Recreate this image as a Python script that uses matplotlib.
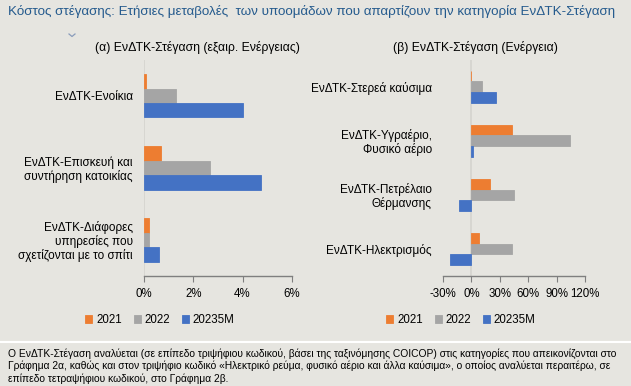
import numpy as np
import matplotlib.pyplot as plt

# δεδομένα (ετήσιες μεταβολές, %)
SERIES = ["2021", "2022", "20235M"]
COLORS = ["#ed7d31", "#a5a5a5", "#4472c4"]

cats_a = ["ΕνΔΤΚ-Ενοίκια", "ΕνΔΤΚ-Επισκευή και\nσυντήρηση κατοικίας",
          "ΕνΔΤΚ-Διάφορες\nυπηρεσίες που\nσχετίζονται με το σπίτι"]
a_2021 = [0.1, 0.7, 0.2]
a_2022 = [1.3, 2.7, 0.2]
a_2023 = [4.0, 4.75, 0.6]

cats_b = ["ΕνΔΤΚ-Στερεά καύσιμα", "ΕνΔΤΚ-Υγραέριο,\nΦυσικό αέριο",
          "ΕνΔΤΚ-Πετρέλαιο\nΘέρμανσης", "ΕνΔΤΚ-Ηλεκτρισμός"]
b_2021 = [-0.5, 43, 20, 8]
b_2022 = [11, 104, 45, 43]
b_2023 = [26, 2, -13, -23]

ticks_a = [0, 2, 4, 6]
ticks_b = [-30, 0, 30, 60, 90, 120]

TITLE = "Κόστος στέγασης: Ετήσιες μεταβολές  των υποομάδων που απαρτίζουν την κατηγορία ΕνΔΤΚ-Στέγαση"
SUB_A = "(α) ΕνΔΤΚ-Στέγαση (εξαιρ. Ενέργειας)"
SUB_B = "(β) ΕνΔΤΚ-Στέγαση (Ενέργεια)"
NOTE = ("Ο ΕνΔΤΚ-Στέγαση αναλύεται (σε επίπεδο τριψήφιου κωδικού, βάσει της ταξινόμησης COICOP) στις κατηγορίες που απεικονίζονται στο\n"
        "Γράφημα 2α, καθώς και στον τριψήφιο κωδικό «Ηλεκτρικό ρεύμα, φυσικό αέριο και άλλα καύσιμα», ο οποίος αναλύεται περαιτέρω, σε\n"
        "επίπεδο τετραψήφιου κωδικού, στο Γράφημα 2β.")

BG = "#e6e5e0"
plt.rcParams['font.family'] = ['Liberation Sans', 'DejaVu Sans']

fig = plt.figure(figsize=(6.31, 3.86), dpi=100, facecolor=BG)


def draw_panel(ax, cats, vals, ticks, xlim, fmt):
    ax.set_facecolor(BG)
    y = np.arange(len(cats))
    h = 0.2
    for i, v in enumerate(vals):
        ax.barh(y + (i - 1) * h, v, height=h, color=COLORS[i],
                edgecolor=COLORS[i], linewidth=0.6, label=SERIES[i], zorder=3)
    ax.axvline(0, color="#d4d3cf", lw=1.2, zorder=1)
    ax.set_yticks(y)
    ax.set_yticklabels(cats, fontsize=8.5, linespacing=1.1)
    ax.set_ylim(len(cats) - 0.5, -0.5)
    ax.set_xlim(*xlim)
    ax.set_xticks(ticks)
    ax.set_xticklabels([fmt(t) for t in ticks], fontsize=8.3)
    for s in ["top", "right", "left"]:
        ax.spines[s].set_visible(False)
    ax.spines["bottom"].set_color("#7f7f7f")
    ax.spines["bottom"].set_linewidth(1.0)
    ax.tick_params(axis="y", length=0, pad=8)
    ax.tick_params(axis="x", length=4, color="#7f7f7f", pad=5)


ax1 = fig.add_axes([0.228, 0.285, 0.2345, 0.56])
draw_panel(ax1, cats_a, [a_2021, a_2022, a_2023], ticks_a, (0, 6),
           lambda t: f"{t}%")

ax2 = fig.add_axes([0.702, 0.285, 0.225, 0.56])
draw_panel(ax2, cats_b, [b_2021, b_2022, b_2023], ticks_b, (-30, 120),
           lambda t: f"{t}%")

# τίτλοι
fig.text(8 / 631, 1 - 12 / 386, TITLE, fontsize=9.6, color="#245a8d", va="center")
# μικρό σύμβολο κάτω από τον τίτλο
fig.add_artist(plt.Line2D([69 / 631, 72 / 631, 75 / 631],
                          [1 - 34 / 386, 1 - 36.5 / 386, 1 - 34 / 386],
                          color="#8a9cbb", lw=0.9))
fig.text(197 / 631, 1 - 47 / 386, SUB_A, fontsize=8.8, ha="center", va="center")
fig.text(475 / 631, 1 - 47 / 386, SUB_B, fontsize=8.8, ha="center", va="center")

# υπομνήματα
handles, labels = ax1.get_legend_handles_labels()
for cx in (160 / 631, 461 / 631):
    fig.legend(handles, labels, loc="center", bbox_to_anchor=(cx, 1 - 320 / 386),
               ncol=3, frameon=False, fontsize=8.3, handlelength=0.6,
               handleheight=0.6, handletextpad=0.35, columnspacing=1.0)

# διαχωριστική γραμμή και σημείωση
fig.add_artist(plt.Line2D([0, 1], [1 - 342 / 386] * 2, color="white", lw=1.5))
fig.text(8 / 631, 1 - 366 / 386, NOTE, fontsize=7.4, va="center", linespacing=1.25)

fig.savefig("out.png", dpi=100, facecolor=BG)
